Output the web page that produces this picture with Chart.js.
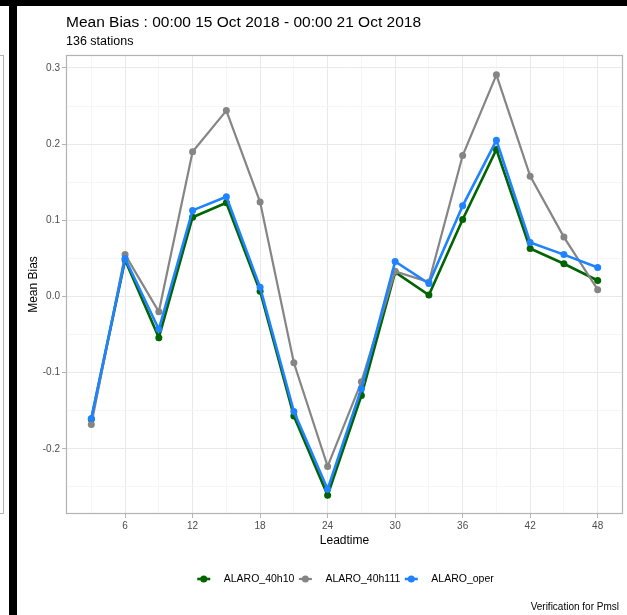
<!DOCTYPE html>
<html>
<head>
<meta charset="utf-8">
<script src="https://cdn.jsdelivr.net/npm/chart.js@4.4.0/dist/chart.umd.min.js"></script>
<style>
  html, body { margin: 0; padding: 0; background: #000; }
  body { width: 627px; height: 615px; position: relative; overflow: hidden; }
  #side { position: absolute; left: 0; top: 6px; width: 9px; height: 609px; background: #fff; overflow: hidden; }
  #side .panel { position: absolute; left: -20px; top: 49px; width: 22px; height: 457px; border: 1px solid #b3b3b3; }
  #wrap { position: absolute; left: 17px; top: 6px; width: 610px; height: 609px; background: #fff; }
</style>
</head>
<body>
<div id="side"><div class="panel"></div></div>
<div id="wrap"><canvas id="biasChart"></canvas></div>
<script>
// leadtime in hours
const leadtimes = [3, 6, 9, 12, 15, 18, 21, 24, 27, 30, 33, 36, 39, 42, 45, 48];

const alaro40h10 = [-0.161, 0.048, -0.054, 0.104, 0.123, 0.007, -0.157, -0.261, -0.130, 0.032, 0.002, 0.101, 0.193, 0.063, 0.043, 0.021];
const alaro40h111 = [-0.168, 0.055, -0.020, 0.190, 0.244, 0.124, -0.087, -0.223, -0.112, 0.033, 0.019, 0.185, 0.291, 0.158, 0.078, 0.009];
const alaroOper = [-0.160, 0.050, -0.043, 0.113, 0.131, 0.012, -0.151, -0.253, -0.121, 0.046, 0.017, 0.119, 0.205, 0.071, 0.055, 0.038];

const seriesNames = ['ALARO_40h10', 'ALARO_40h111', 'ALARO_oper'];
const seriesColors = ['#006400', '#858585', '#1f82ff'];

const xTickLabels = [6, 12, 18, 24, 30, 36, 42, 48];
const yTickLabels = [-0.2, -0.1, 0.0, 0.1, 0.2, 0.3];

const titleText = 'Mean Bias : 00:00 15 Oct 2018 - 00:00 21 Oct 2018';
const subtitleText = '136 stations';
const captionText = 'Verification for Pmsl';

const FONT = '"Liberation Sans", Arial, Helvetica, sans-serif';
Chart.defaults.font.family = FONT;

function toPoints(values) {
    return leadtimes.map((x, i) => ({ x: x, y: values[i] }));
}

function isMajorX(v) { return xTickLabels.some(t => Math.abs(t - v) < 1e-6); }
function isMajorY(v) { return yTickLabels.some(t => Math.abs(t - v) < 1e-6); }

const widths = [2.6, 2.2, 2.6];

const decorations = {
    id: 'decorations',
    afterDatasetsDraw(chart) {
        const a = chart.chartArea;
        const ctx = chart.ctx;
        ctx.save();
        ctx.strokeStyle = '#b3b3b3';
        ctx.lineWidth = 1.2;
        ctx.strokeRect(Math.round(a.left) + 0.5, Math.round(a.top) + 0.5,
            Math.round(a.right - a.left) - 1, Math.round(a.bottom - a.top) - 1);
        ctx.restore();
    },
    afterDraw(chart) {
        const a = chart.chartArea;
        const ctx = chart.ctx;
        ctx.save();
        ctx.fillStyle = '#000';
        ctx.textAlign = 'left';
        ctx.textBaseline = 'alphabetic';
        ctx.font = '15.5px ' + FONT;
        ctx.fillText(titleText, a.left, 20.5);
        ctx.font = '12.5px ' + FONT;
        ctx.fillText(subtitleText, a.left, 39);

        // legend
        ctx.font = '10.5px ' + FONT;
        const keyW = 17, keyGap = 11.5, itemGap = 2.5;
        const textW = seriesNames.map(n => ctx.measureText(n).width);
        let total = 0;
        textW.forEach((w, i) => { total += keyW + keyGap + w + (i < textW.length - 1 ? itemGap : 0); });
        let x = (a.left + a.right) / 2 - total / 2;
        const ly = 573;
        seriesNames.forEach((name, i) => {
            const cx = x + keyW / 2;
            ctx.strokeStyle = seriesColors[i];
            ctx.lineWidth = widths[i];
            ctx.beginPath();
            ctx.moveTo(cx - 6.5, ly);
            ctx.lineTo(cx + 6.5, ly);
            ctx.stroke();
            ctx.fillStyle = seriesColors[i];
            ctx.beginPath();
            ctx.arc(cx, ly, 3.5, 0, Math.PI * 2);
            ctx.fill();
            ctx.fillStyle = '#000';
            ctx.textBaseline = 'middle';
            ctx.fillText(name, x + keyW + keyGap, ly + 0.5);
            x += keyW + keyGap + textW[i] + itemGap;
        });

        ctx.textAlign = 'right';
        ctx.textBaseline = 'alphabetic';
        ctx.font = '10px ' + FONT;
        ctx.fillText(captionText, 602, 604);
        ctx.restore();
    }
};

const ctx = document.getElementById('biasChart').getContext('2d');
const chart = new Chart(ctx, {
    type: 'line',
    data: {
        datasets: [alaro40h10, alaro40h111, alaroOper].map((vals, i) => ({
            label: seriesNames[i],
            data: toPoints(vals),
            borderColor: seriesColors[i],
            backgroundColor: seriesColors[i],
            borderWidth: widths[i],
            pointRadius: 3.5,
            pointBorderWidth: 0,
            pointBackgroundColor: seriesColors[i],
            tension: 0,
            fill: false,
            order: 3 - i
        }))
    },
    options: {
        responsive: true,
        maintainAspectRatio: false,
        animation: false,
        layout: {
            padding: { top: 49, right: 4, bottom: 65, left: 0 }
        },
        plugins: {
            legend: { display: false },
            tooltip: { enabled: false },
            title: { display: false }
        },
        scales: {
            x: {
                type: 'linear',
                min: 0.75,
                max: 50.25,
                afterFit: (s) => { s.height = 36; },
                border: { display: false },
                grid: {
                    color: (c) => isMajorX(c.tick.value) ? '#e9e9e9' : '#f4f4f4',
                    lineWidth: (c) => isMajorX(c.tick.value) ? 1 : 0.8,
                    tickColor: (c) => isMajorX(c.tick.value) ? '#b3b3b3' : 'rgba(0,0,0,0)',
                    tickLength: 4,
                    tickWidth: 1
                },
                ticks: {
                    stepSize: 3,
                    includeBounds: false,
                    maxRotation: 0,
                    autoSkip: false,
                    padding: 2,
                    color: '#4d4d4d',
                    font: { size: 10 },
                    callback: (v) => isMajorX(v) ? String(v) : ''
                },
                title: {
                    display: true,
                    text: 'Leadtime',
                    color: '#000',
                    font: { size: 12 },
                    padding: { top: 0, bottom: 2 }
                }
            },
            y: {
                type: 'linear',
                min: -0.2855,
                max: 0.317,
                afterFit: (s) => { s.width = 49; },
                border: { display: false },
                grid: {
                    color: (c) => isMajorY(c.tick.value) ? '#e9e9e9' : '#f4f4f4',
                    lineWidth: (c) => isMajorY(c.tick.value) ? 1 : 0.8,
                    tickColor: (c) => isMajorY(c.tick.value) ? '#b3b3b3' : 'rgba(0,0,0,0)',
                    tickLength: 4,
                    tickWidth: 1
                },
                ticks: {
                    stepSize: 0.05,
                    includeBounds: false,
                    autoSkip: false,
                    padding: 2,
                    color: '#4d4d4d',
                    font: { size: 10 },
                    callback: (v) => {
                        if (!isMajorY(v)) return '';
                        return Math.abs(v) < 1e-9 ? '0.0' : v.toFixed(1);
                    }
                },
                title: {
                    display: true,
                    text: 'Mean Bias',
                    color: '#000',
                    font: { size: 12 },
                    padding: { top: 9, bottom: 0 }
                }
            }
        }
    },
    plugins: [decorations]
});
</script>
</body>
</html>
